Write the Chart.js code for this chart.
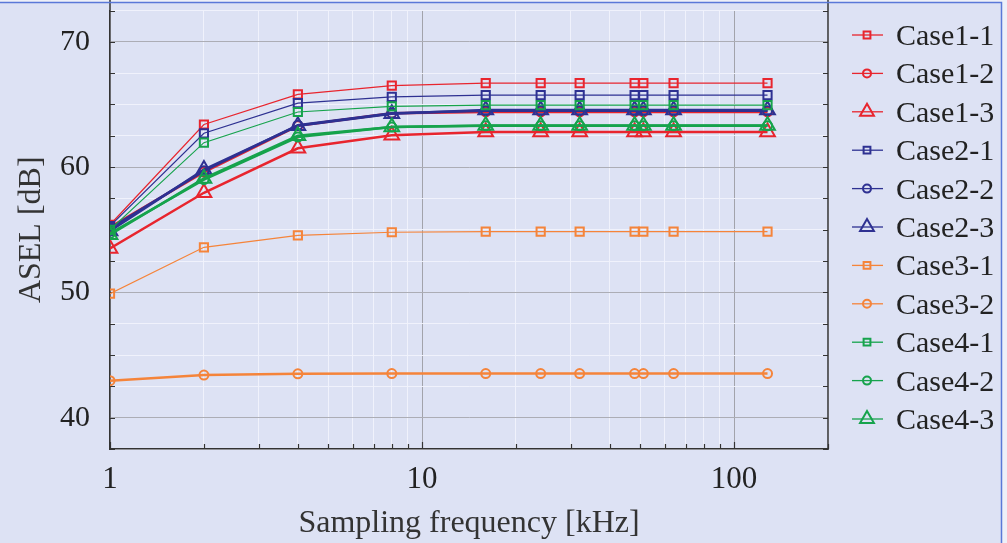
<!DOCTYPE html>
<html lang="en">
<head>
<meta charset="UTF-8">
<title>ASEL vs sampling frequency</title>
<script src="https://cdn.jsdelivr.net/npm/chart.js@4.4.1/dist/chart.umd.min.js"></script>
<style>
  html, body { margin: 0; padding: 0; background: #eef0f8; }
  .wrap { position: relative; width: 1007px; height: 543px; }
</style>
</head>
<body>
<div class="wrap"><canvas id="asel" width="1007" height="543"></canvas></div>
<script>
// sampling frequencies [kHz]
const freqs = [1, 2, 4, 8, 16, 24, 32, 48, 51.2, 64, 128];

// ASEL [dB] per case
const case1_1 = [55.4, 63.4, 65.8, 66.5, 66.7, 66.7, 66.7, 66.7, 66.7, 66.7, 66.7];
const case1_2 = [55.2, 59.6, 63.3, 64.3, 64.4, 64.4, 64.4, 64.4, 64.4, 64.4, 64.4];
const case1_3 = [53.5, 57.95, 61.5, 62.55, 62.8, 62.8, 62.8, 62.8, 62.8, 62.8, 62.8];
const case2_1 = [55.3, 62.7, 65.1, 65.6, 65.75, 65.75, 65.75, 65.75, 65.75, 65.75, 65.75];
const case2_2 = [55.1, 59.7, 63.35, 64.3, 64.5, 64.5, 64.5, 64.5, 64.5, 64.5, 64.5];
const case2_3 = [54.9, 59.8, 63.3, 64.25, 64.55, 64.55, 64.55, 64.55, 64.55, 64.55, 64.55];
const case3_1 = [49.9, 53.6, 54.55, 54.8, 54.85, 54.85, 54.85, 54.85, 54.85, 54.85, 54.85];
const case3_2 = [42.95, 43.4, 43.5, 43.52, 43.52, 43.52, 43.52, 43.52, 43.52, 43.52, 43.52];
const case4_1 = [55.0, 61.95, 64.4, 64.85, 64.95, 64.95, 64.95, 64.95, 64.95, 64.95, 64.95];
const case4_2 = [54.7, 59.0, 62.4, 63.2, 63.3, 63.3, 63.3, 63.3, 63.3, 63.3, 63.3];
const case4_3 = [54.6, 59.1, 62.5, 63.2, 63.33, 63.33, 63.33, 63.33, 63.33, 63.33, 63.33];

const xTickLabels = [1, 10, 100];
const yTickLabels = [40, 50, 60, 70];

const RED = '#e8252e', BLUE = '#2e3192', ORANGE = '#f5843a', GREEN = '#16a34c';

const series = [
  { label: 'Case1-1', values: case1_1, color: RED,    style: 'rect',     width: 1.2 },
  { label: 'Case1-2', values: case1_2, color: RED,    style: 'circle',   width: 2.5 },
  { label: 'Case1-3', values: case1_3, color: RED,    style: 'triangle', width: 2.5 },
  { label: 'Case2-1', values: case2_1, color: BLUE,   style: 'rect',     width: 1.2 },
  { label: 'Case2-2', values: case2_2, color: BLUE,   style: 'circle',   width: 2.5 },
  { label: 'Case2-3', values: case2_3, color: BLUE,   style: 'triangle', width: 2.5 },
  { label: 'Case3-1', values: case3_1, color: ORANGE, style: 'rect',     width: 1.2 },
  { label: 'Case3-2', values: case3_2, color: ORANGE, style: 'circle',   width: 2.5 },
  { label: 'Case4-1', values: case4_1, color: GREEN,  style: 'rect',     width: 1.2 },
  { label: 'Case4-2', values: case4_2, color: GREEN,  style: 'circle',   width: 2.5 },
  { label: 'Case4-3', values: case4_3, color: GREEN,  style: 'triangle', width: 2.5 }
];

const markerRadius = { rect: 5.8, circle: 4.5, triangle: 8.5 };
const legendRadius = { rect: 3.4, circle: 4, triangle: 8 };

const datasets = series.map((s, i) => ({
  label: s.label,
  data: freqs.map((f, k) => ({ x: f, y: s.values[k] })),
  borderColor: s.color,
  backgroundColor: 'transparent',
  borderWidth: s.width,
  pointStyle: s.style,
  pointRadius: markerRadius[s.style],
  pointBorderWidth: 2,
  pointBorderColor: s.color,
  pointBackgroundColor: 'transparent',
  tension: 0,
  order: series.length - i   // later cases drawn on top
}));

const SERIF = "'Liberation Serif', 'DejaVu Serif', serif";
const isDecade = v => Math.abs(Math.log10(v) - Math.round(Math.log10(v))) < 1e-9;

// page background, outer frame, inward tick marks and the side legend
const frame = {
  id: 'frame',
  beforeDraw(chart) {
    const c = chart.ctx;
    c.save();
    c.fillStyle = '#dde2f4';
    c.fillRect(0, 3, 1002, 540);
    c.restore();
  },
  beforeDatasetsDraw(chart) {
    const c = chart.ctx, a = chart.chartArea;
    const xs = chart.scales.x, ys = chart.scales.y;
    c.save();
    c.strokeStyle = '#333';
    c.lineWidth = 1.2;
    c.beginPath();
    ys.ticks.forEach(t => {
      const py = Math.round(ys.getPixelForValue(t.value)) + 0.5;
      c.moveTo(a.left, py); c.lineTo(a.left + 5, py);
      c.moveTo(a.right, py); c.lineTo(a.right - 5, py);
    });
    xs.ticks.forEach(t => {
      const px = Math.round(xs.getPixelForValue(t.value)) + 0.5;
      const len = isDecade(t.value) ? 7 : 5;
      c.moveTo(px, a.bottom); c.lineTo(px, a.bottom - len);
    });
    c.stroke();
    // left and right axis lines run up to the top edge
    c.lineWidth = 1.5;
    c.beginPath();
    c.moveTo(a.right, 0); c.lineTo(a.right, a.bottom + 0.75);
    c.moveTo(a.left, 0); c.lineTo(a.left, a.top);
    c.stroke();
    c.restore();
  },
  afterDraw(chart) {
    const c = chart.ctx;
    c.save();
    chart.data.datasets.forEach((ds, i) => {
      const y = 35 + i * 38.4;
      c.strokeStyle = ds.borderColor;
      c.lineWidth = 1.3;
      c.beginPath(); c.moveTo(852, y); c.lineTo(883, y); c.stroke();
      c.lineWidth = 2;
      const r = legendRadius[ds.pointStyle];
      c.beginPath();
      if (ds.pointStyle === 'rect') {
        c.rect(867 - r, y - r, 2 * r, 2 * r);
      } else if (ds.pointStyle === 'circle') {
        c.arc(867, y, r, 0, Math.PI * 2);
      } else {
        c.moveTo(867, y - r);
        c.lineTo(867 + r * 0.866, y + r * 0.5);
        c.lineTo(867 - r * 0.866, y + r * 0.5);
        c.closePath();
      }
      c.stroke();
      c.fillStyle = '#222';
      c.font = '30px ' + SERIF;
      c.textBaseline = 'alphabetic';
      c.fillText(ds.label, 896, y + 10);
    });
    // blue frame
    c.strokeStyle = '#5a78d8';
    c.lineWidth = 1.5;
    c.beginPath();
    c.moveTo(0, 2.5); c.lineTo(1001.5, 2.5); c.lineTo(1001.5, 543);
    c.stroke();
    c.restore();
  }
};

new Chart(document.getElementById('asel'), {
  type: 'line',
  data: { datasets },
  options: {
    responsive: false,
    animation: false,
    layout: { padding: { top: 5, right: 179, left: 0, bottom: 0 } },
    plugins: { legend: { display: false }, tooltip: { enabled: false } },
    scales: {
      x: {
        type: 'logarithmic',
        min: 1,
        max: 200,
        afterFit(scale) {
          scale.height = 94;
          scale.paddingLeft = 0;
          scale.paddingRight = 0;
        },
        afterBuildTicks(scale) {
          const t = [];
          for (let d = 1; d <= 100; d *= 10) {
            for (let m = 1; m <= 9; m++) if (d * m <= 200) t.push({ value: d * m });
          }
          t.push({ value: 200 });
          scale.ticks = t;
        },
        grid: {
          drawTicks: false,
          lineWidth: 1,
          color: ctx => (ctx.tick && isDecade(ctx.tick.value)) ? '#a2a3ab' : 'rgba(240,242,252,0.95)'
        },
        border: { color: '#333', width: 1.5 },
        ticks: {
          autoSkip: false,
          maxRotation: 0,
          padding: 12,
          color: '#222',
          font: { family: SERIF, size: 31 },
          callback: v => xTickLabels.includes(v) ? String(v) : ''
        },
        title: {
          display: true,
          text: 'Sampling frequency [kHz]',
          color: '#333',
          font: { family: SERIF, size: 32 },
          padding: { top: 0, bottom: 0 }
        }
      },
      y: {
        min: 37.5,
        max: 72.5,
        afterFit(scale) {
          scale.width = 110;
          scale.paddingTop = 0;
          scale.paddingBottom = 0;
        },
        afterBuildTicks(scale) {
          const t = [];
          for (let v = 37.5; v <= 72.5 + 1e-9; v += 2.5) t.push({ value: v });
          scale.ticks = t;
        },
        grid: {
          drawTicks: false,
          lineWidth: 1,
          color: ctx => (ctx.tick && yTickLabels.includes(ctx.tick.value)) ? '#acadb5' : 'rgba(240,242,252,0.95)'
        },
        border: { color: '#333', width: 1.5 },
        ticks: {
          autoSkip: false,
          padding: 20,
          color: '#222',
          font: { family: SERIF, size: 30 },
          callback: v => yTickLabels.includes(v) ? String(v) : ''
        },
        title: {
          display: true,
          text: 'ASEL [dB]',
          color: '#333',
          font: { family: SERIF, size: 32 },
          padding: { top: 12, bottom: 0 }
        }
      }
    }
  },
  plugins: [frame]
});
</script>
</body>
</html>
